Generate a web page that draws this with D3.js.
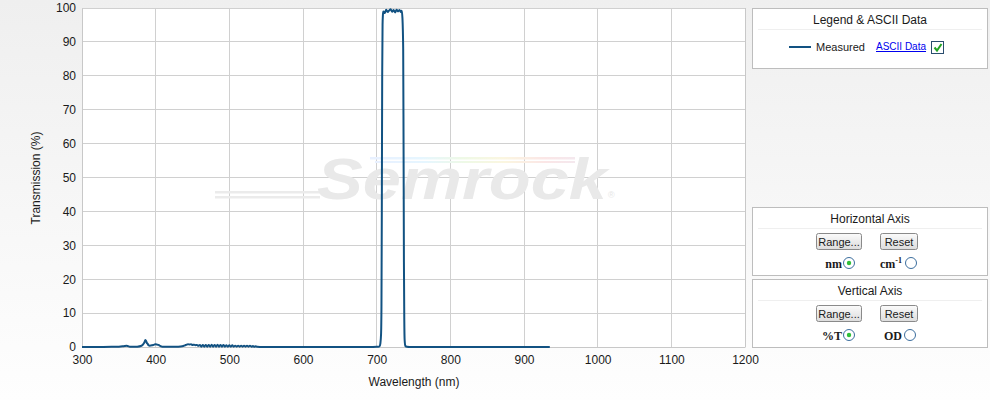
<!DOCTYPE html>
<html><head><meta charset="utf-8">
<script src="https://cdn.jsdelivr.net/npm/d3@7"></script>
<style>
html,body{margin:0;padding:0;}
body{width:990px;height:400px;overflow:hidden;font-family:"Liberation Sans",Arial,sans-serif;}
</style></head>
<body><svg id="c" width="990" height="400"></svg>
<script>
const xTicks = [300,400,500,600,700,800,900,1000,1100,1200];
const yTicks = [0,10,20,30,40,50,60,70,80,90,100];
const wavelengths = [300,320,340,350,355,358,360,362,365,370,375,380,383,385,386,387,388,389,390,392,395,398,400,402,404,406,408,410,415,420,430,436,440,442,444,446,448,450,452,454,456,458,
460,462,464,466,468,470,472,474,476,478,480,482,484,486,488,490,492,494,496,498,500,502,504,506,508,510,512,514,516,518,520,522,524,526,528,530,532,534,536,538,
545,560,600,650,690,700,704,705,706,706.5,707,707.5,708,708.5,709,711,713,715,717,719,721,723,725,727,729,731,733,734,735,736,736.5,737,737.5,738,739,741,745,760,800,850,900,935];
const transmission = [0,0,0.05,0.1,0.2,0.3,0.35,0.3,0.1,0.05,0.1,0.3,0.8,1.5,2.1,1.8,1.2,1.0,0.6,0.4,0.5,0.7,0.8,0.7,0.6,0.3,0.15,0.05,0.05,0.05,0.1,0.2,0.5,0.7,0.8,0.75,0.8,0.6,0.7,0.55,0.6,0.4,
0.6,0.1,0.6,0.1,0.6,0.1,0.6,0.1,0.7,0.1,0.6,0.1,0.7,0.1,0.6,0.1,0.6,0.1,0.5,0.1,0.5,0.1,0.5,0.1,0.4,0.1,0.4,0.1,0.4,0.1,0.4,0.1,0.4,0.1,0.4,0.1,0.3,0.1,0.2,0.05,
0,0,0,0,0,0.05,0.2,1,4,12,40,80,95,98,99,98.5,99.5,98.8,99.3,99.6,98.9,99.4,98.7,99.5,99,99.4,98.8,99.2,97,88,60,25,8,2,0.3,0.05,0,0,0,0,0,0];

const svg = d3.select('#c');
const defs = svg.append('defs');
const bg = defs.append('linearGradient').attr('id','bg').attr('x1',0).attr('y1',0).attr('x2',0).attr('y2',1);
bg.append('stop').attr('offset','0%').attr('stop-color','#efefef');
bg.append('stop').attr('offset','100%').attr('stop-color','#fefefe');
const btn = defs.append('linearGradient').attr('id','btn').attr('x1',0).attr('y1',0).attr('x2',0).attr('y2',1);
btn.append('stop').attr('offset','0%').attr('stop-color','#fbfbfb');
btn.append('stop').attr('offset','100%').attr('stop-color','#dcdcdc');
const rb = defs.append('linearGradient').attr('id','rainbow').attr('x1',0).attr('y1',0).attr('x2',1).attr('y2',0);
[['0%','#e8f0ff'],['25%','#e6f6ff'],['45%','#eef9e6'],['65%','#fbf6e0'],['85%','#fbe6e6'],['100%','#f4e8ee']].forEach(s=>rb.append('stop').attr('offset',s[0]).attr('stop-color',s[1]));

svg.append('rect').attr('width',990).attr('height',400).attr('fill','url(#bg)');

const x = d3.scaleLinear().domain([300,1200]).range([82,745]);
const y = d3.scaleLinear().domain([0,100]).range([347,8]);

svg.append('rect').attr('x',82).attr('y',8).attr('width',663).attr('height',339).attr('fill','#fff');

// grid
svg.append('g').selectAll('line').data(xTicks).join('line')
  .attr('x1',d=>x(d)).attr('x2',d=>x(d)).attr('y1',8).attr('y2',347)
  .attr('stroke','#d0d0d0').attr('stroke-width',1).attr('shape-rendering','crispEdges');
svg.append('g').selectAll('line').data(yTicks).join('line')
  .attr('x1',82).attr('x2',745).attr('y1',d=>y(d)).attr('y2',d=>y(d))
  .attr('stroke','#d0d0d0').attr('stroke-width',1).attr('shape-rendering','crispEdges');

// watermark
const wm = svg.append('g');
wm.append('rect').attr('x',370).attr('y',157).attr('width',205).attr('height',2.5).attr('fill','url(#rainbow)');
wm.append('rect').attr('x',375).attr('y',161).attr('width',200).attr('height',2).attr('fill','url(#rainbow)');
wm.append('rect').attr('x',215).attr('y',191).attr('width',110).attr('height',2.5).attr('fill','#ebebeb');
wm.append('rect').attr('x',215).attr('y',196).attr('width',105).attr('height',2.5).attr('fill','#ebebeb');
wm.append('text').attr('x',462).attr('y',199).attr('text-anchor','middle')
  .attr('font-family','"Liberation Sans",Arial,sans-serif').attr('font-style','italic').attr('font-weight','bold')
  .attr('font-size',58).attr('fill','#e9e9e9').attr('textLength',290).attr('lengthAdjust','spacingAndGlyphs').text('Semrock');
wm.append('text').attr('x',608).attr('y',198).attr('font-size',9).attr('fill','#e6e6e6').text('®');

// axes
const xAxis = d3.axisBottom(x).tickValues(xTicks).tickFormat(d3.format('d')).tickSize(0).tickPadding(8);
const gx = svg.append('g').attr('transform','translate(0,347)').call(xAxis);
gx.select('.domain').attr('stroke','#c8c8c8');
gx.selectAll('text').attr('font-size',12).attr('fill','#1a1a1a').attr('font-family','"Liberation Sans",Arial,sans-serif');
const yAxis = d3.axisLeft(y).tickValues(yTicks).tickFormat(d3.format('d')).tickSize(0).tickPadding(6);
const gy = svg.append('g').attr('transform','translate(82,0)').call(yAxis);
gy.select('.domain').attr('stroke','#c8c8c8');
gy.selectAll('text').attr('font-size',12).attr('fill','#1a1a1a').attr('font-family','"Liberation Sans",Arial,sans-serif');
svg.append('line').attr('x1',745.5).attr('x2',745.5).attr('y1',8).attr('y2',347).attr('stroke','#c8c8c8');

svg.append('text').attr('x',414).attr('y',386).attr('text-anchor','middle').attr('font-size',12).attr('fill','#1a1a1a').text('Wavelength (nm)');
svg.append('text').attr('transform','translate(40,178) rotate(-90)').attr('text-anchor','middle').attr('font-size',12).attr('fill','#1a1a1a').text('Transmission (%)');

// data line
const pts = wavelengths.map((w,i)=>[w,transmission[i]]);
svg.append('path').datum(pts)
  .attr('d',d3.line().x(d=>x(d[0])).y(d=>y(d[1])).curve(d3.curveMonotoneX))
  .attr('fill','none').attr('stroke','#125282').attr('stroke-width',2).attr('stroke-linejoin','round');

// panels
function panel(y0,h,title){
  const g = svg.append('g');
  g.append('rect').attr('x',752.5).attr('y',y0+0.5).attr('width',235).attr('height',h).attr('fill','#fff').attr('stroke','#bdbdbd');
  g.append('text').attr('x',870).attr('y',y0+16).attr('text-anchor','middle').attr('font-size',12).attr('fill','#1a1a1a').text(title);
  g.append('line').attr('x1',758).attr('x2',982).attr('y1',y0+21.5).attr('y2',y0+21.5).attr('stroke','#efefef');
  return g;
}
const p1 = panel(8,60,'Legend & ASCII Data');
p1.append('line').attr('x1',789).attr('x2',811).attr('y1',47).attr('y2',47).attr('stroke','#125282').attr('stroke-width',2);
p1.append('text').attr('x',816).attr('y',51).attr('font-size',11).attr('fill','#1a1a1a').text('Measured');
p1.append('text').attr('x',876).attr('y',50).attr('font-size',10).attr('fill','#0000ee').attr('text-decoration','underline').text('ASCII Data');
p1.append('rect').attr('x',931.5).attr('y',41.5).attr('width',12).attr('height',12).attr('fill','#fff').attr('stroke','#2a4d6e');
p1.append('path').attr('d','M934.5,47.5 L937,50.5 L941.5,44').attr('fill','none').attr('stroke','#22a322').attr('stroke-width',2);

function button(g,x0,y0,w,label){
  g.append('rect').attr('x',x0+0.5).attr('y',y0+0.5).attr('width',w).attr('height',16).attr('rx',2).attr('fill','url(#btn)').attr('stroke','#8a8a8a');
  g.append('text').attr('x',x0+w/2+0.5).attr('y',y0+13).attr('text-anchor','middle').attr('font-size',11).attr('fill','#1a1a1a').text(label);
}
function radio(g,cx,cy,on){
  g.append('circle').attr('cx',cx).attr('cy',cy).attr('r',5.5).attr('fill','#fff').attr('stroke','#3c6e9e');
  if(on) g.append('circle').attr('cx',cx).attr('cy',cy).attr('r',2.2).attr('fill','#2fbf3a');
}
const p2 = panel(207,68,'Horizontal  Axis');
button(p2,816,233,45,'Range...');
button(p2,880,233,37,'Reset');
p2.append('text').attr('x',842).attr('y',268).attr('text-anchor','end').attr('font-size',12).attr('font-weight','bold').attr('font-family','"Liberation Serif",serif').attr('fill','#1a1a1a').text('nm');
radio(p2,849,263,true);
const cm = p2.append('text').attr('x',880).attr('y',268).attr('font-size',12).attr('font-weight','bold').attr('font-family','"Liberation Serif",serif').attr('fill','#1a1a1a');
cm.append('tspan').text('cm');
cm.append('tspan').attr('dy',-5).attr('font-size',8).text('-1');
radio(p2,911,263,false);

const p3 = panel(279,68,'Vertical  Axis');
button(p3,816,305,45,'Range...');
button(p3,880,305,37,'Reset');
p3.append('text').attr('x',842).attr('y',340).attr('text-anchor','end').attr('font-size',12).attr('font-weight','bold').attr('font-family','"Liberation Serif",serif').attr('fill','#1a1a1a').text('%T');
radio(p3,849,335,true);
p3.append('text').attr('x',884).attr('y',340).attr('font-size',12).attr('font-weight','bold').attr('font-family','"Liberation Serif",serif').attr('fill','#1a1a1a').text('OD');
radio(p3,910,335,false);
</script></body></html>
